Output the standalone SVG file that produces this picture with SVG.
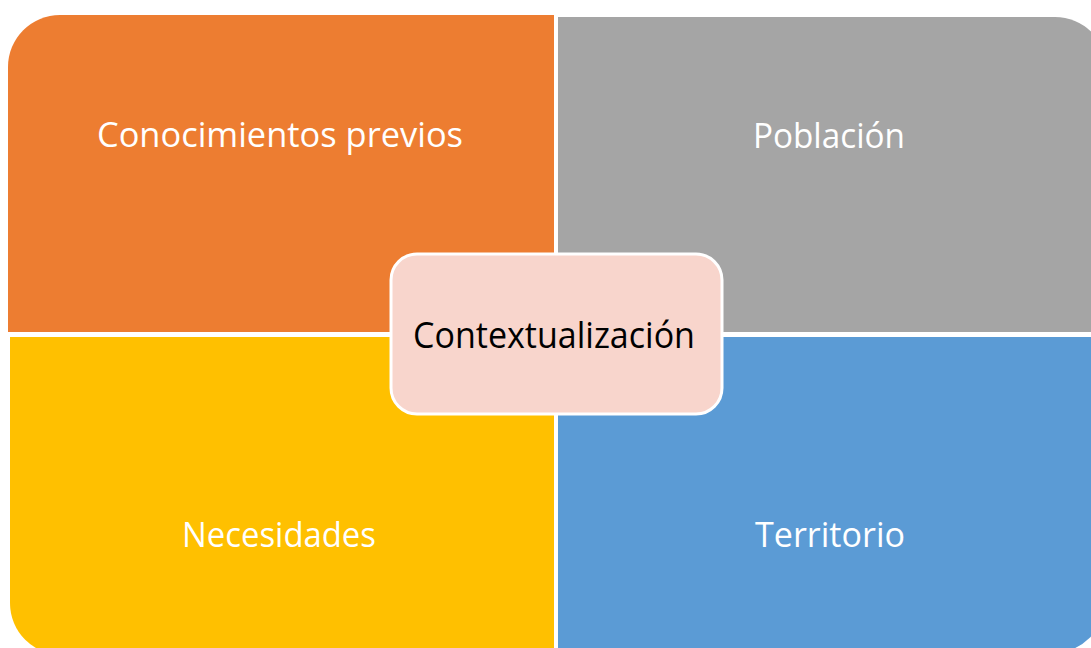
<svg xmlns="http://www.w3.org/2000/svg" width="1091" height="648" viewBox="0 0 1091 648">
<style>
.lbl{font-family:"Open Sans","Noto Sans","Liberation Sans",sans-serif;font-size:34px;fill:#FFFFFF;text-anchor:middle}
.ctr{font-family:"Open Sans","Noto Sans","Liberation Sans",sans-serif;font-size:36px;fill:#000000;text-anchor:middle}
</style>
<rect x="0" y="0" width="1091" height="648" fill="#FFFFFF"/>
<g id="node-conocimientos">
<path d="M8,67 A52,52 0 0 1 60,15 L554,15 L554,332 L8,332 Z" fill="#ED7D31"/>
<text class="lbl" x="280" y="147" textLength="366" lengthAdjust="spacingAndGlyphs">Conocimientos previos</text>
</g>
<g id="node-poblacion">
<path d="M558,17 L1055,17 A52,52 0 0 1 1107,69 L1107,332 L558,332 Z" fill="#A5A5A5"/>
<text class="lbl" x="829" y="148" textLength="152" lengthAdjust="spacingAndGlyphs">Población</text>
</g>
<g id="node-necesidades">
<path d="M10,337 L554,337 L554,655 L62,655 A52,52 0 0 1 10,603 Z" fill="#FFC000"/>
<text class="lbl" x="279" y="547" textLength="194" lengthAdjust="spacingAndGlyphs">Necesidades</text>
</g>
<g id="node-territorio">
<path d="M558,337 L1105,337 L1105,601 A52,52 0 0 1 1053,653 L558,653 Z" fill="#5B9BD5"/>
<text class="lbl" x="830" y="547" textLength="150" lengthAdjust="spacingAndGlyphs">Territorio</text>
</g>
<g id="connectors"></g>
<g id="node-contextualizacion">
<rect x="391" y="254" width="331" height="160" rx="26" ry="26" fill="#F8D5CC" stroke="#FFFFFF" stroke-width="3"/>
<text class="ctr" x="554" y="348" textLength="282" lengthAdjust="spacingAndGlyphs">Contextualización</text>
</g>
</svg>
